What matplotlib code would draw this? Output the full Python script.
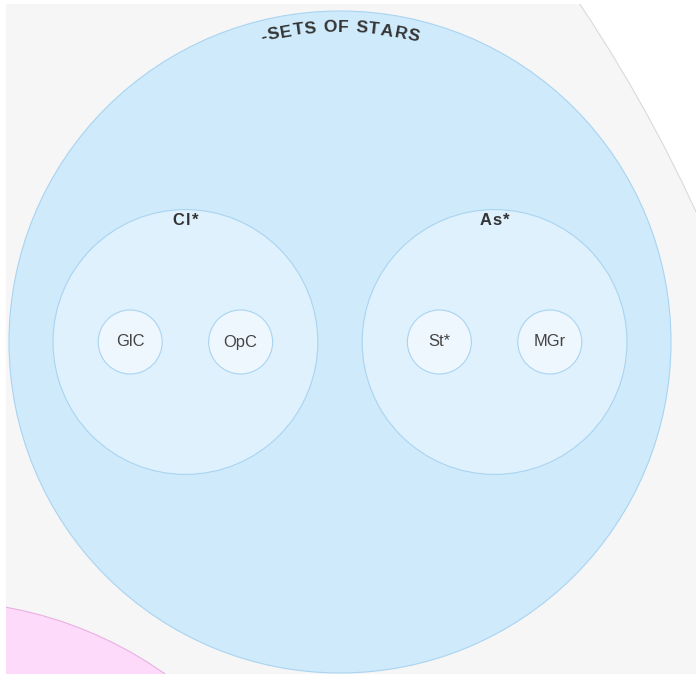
"""Zoomed circle packing view: sets of stars"""
import numpy as np
import matplotlib.pyplot as plt
from matplotlib.patches import Circle
from matplotlib.textpath import text_to_path
from matplotlib.font_manager import FontProperties

# hierarchy shown in the view
top_name = "-SETS OF STARS"
mid_names = ["Cl*", "As*"]
leaf_names = ["GlC", "OpC", "St*", "MGr"]
leaf_parent = ["Cl*", "Cl*", "As*", "As*"]
leaf_values = [1, 1, 1, 1]

# colours
gray_fill, gray_edge = '#f6f6f6', '#dadada'
pink_fill, pink_edge = '#fdd9fa', '#e9b1e3'
blue_fill, blue_edge = '#cfeafb', '#a9d4f1'
mid_fill = '#dff1fd'
leaf_fill = '#eef7fe'

# view geometry (pixels)
W, H = 696, 674
root_c, root_r = (-667, 838), 1500
pink_c, pink_r = (-64, 997), 396
top_c, top_r = (340, 342), 331

fig = plt.figure(figsize=(W / 100, H / 100), dpi=100)
ax = fig.add_axes([6 / W, 0, (W - 6) / W, (H - 4) / H])
ax.set_xlim(6, W)
ax.set_ylim(H, 4)
ax.set_aspect('equal')
ax.axis('off')

px = 72 / 100  # points per pixel


def spaced(x, y, s, fp, track, color):
    # draw a string letter by letter with extra spacing
    ws = [text_to_path.get_text_width_height_descent(c, fp, ismath=False)[0] / px + track
          for c in s]
    x0 = x - sum(ws) / 2 + track / 2
    for c, w in zip(s, ws):
        ax.text(x0 + (w - track) / 2, y, c, fontproperties=fp, color=color,
                ha='center', va='baseline')
        x0 += w


ax.add_patch(Circle(root_c, root_r, fc=gray_fill, ec=gray_edge, lw=0.8))
ax.add_patch(Circle(pink_c, pink_r, fc=pink_fill, ec=pink_edge, lw=0.8))
ax.add_patch(Circle(top_c, top_r, fc=blue_fill, ec=blue_edge, lw=0.8))

# middle level: two circles side by side
mid_r = 0.4 * top_r
mid_off = 0.467 * top_r
mid_fp = FontProperties(family='Liberation Sans', weight='bold', size=16.5 * px)
mid_pos = {}
for i, name in enumerate(mid_names):
    cx = top_c[0] + (i - 0.5) * 2 * mid_off
    cy = top_c[1]
    mid_pos[name] = (cx, cy)
    ax.add_patch(Circle((cx, cy), mid_r, fc=mid_fill, ec=blue_edge, lw=0.8))
    spaced(cx, cy - mid_r + 15, name, mid_fp, 1.5, '#333333')

# leaves
leaf_scale = 32
for name, parent, v in zip(leaf_names, leaf_parent, leaf_values):
    sibs = [n for n, p in zip(leaf_names, leaf_parent) if p == parent]
    k = sibs.index(name)
    pcx, pcy = mid_pos[parent]
    cx = pcx + (k - (len(sibs) - 1) / 2) * 0.834 * mid_r
    r = leaf_scale * np.sqrt(v)
    ax.add_patch(Circle((cx, pcy), r, fc=leaf_fill, ec=blue_edge, lw=0.8))
    ax.text(cx, pcy, name, ha='center', va='center', fontsize=16.5 * px,
            color='#444444', family='Liberation Sans')

# curved title along the top of the big circle
fp = FontProperties(family='Liberation Sans', weight='bold', size=17.5 * px)
track = 1.0
widths = []
for ch in top_name:
    w, h, d = text_to_path.get_text_width_height_descent(ch, fp, ismath=False)
    widths.append(w / px + track)
R_base = 310
total = sum(widths)
s = -total / 2
for ch, w in zip(top_name, widths):
    mid = s + w / 2
    th = mid / R_base
    x = top_c[0] + R_base * np.sin(th)
    y = top_c[1] - R_base * np.cos(th)
    ax.text(x, y, ch, fontproperties=fp, color='#333333', ha='center',
            va='baseline', rotation=-np.degrees(th), rotation_mode='anchor')
    s += w

plt.savefig('out.png', dpi=100)
